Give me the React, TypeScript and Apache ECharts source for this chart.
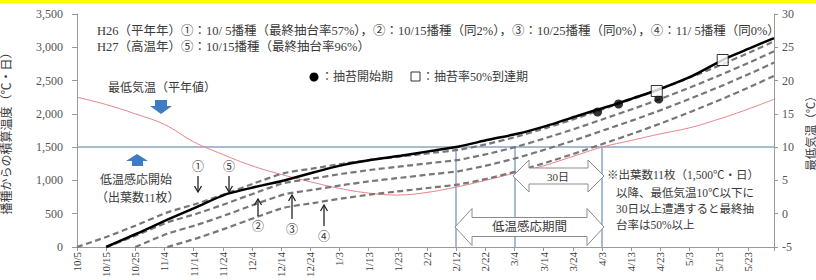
import React, { useEffect, useRef } from 'react';
import * as echarts from 'echarts';

// x = days after 10/5 (tick every 10 days)
const TICK_LABELS = ['10/5', '10/15', '10/25', '11/4', '11/14', '11/24', '12/4', '12/14', '12/24', '1/3', '1/13', '1/23', '2/2', '2/12', '2/22', '3/4', '3/14', '3/24', '4/3', '4/13', '4/23', '5/3', '5/13', '5/23'];

// ⑤ H27 10/15 sowing (solid black)
const S5_DAYS = [10, 21, 31, 41, 51, 61, 66, 71, 81, 91, 101, 111, 121, 131, 141, 151, 161, 171, 178, 185, 191, 199, 211, 222, 231, 239];
const S5_VALUES = [0, 210, 410, 600, 790, 900, 950, 1000, 1120, 1230, 1310, 1370, 1440, 1510, 1610, 1700, 1820, 1960, 2058, 2150, 2240, 2358, 2570, 2824, 2990, 3139];

// ① H26 10/5 sowing
const S1_DAYS = [0, 10, 20, 31, 41, 51, 61, 71, 81, 91, 101, 111, 121, 131, 141, 151, 161, 171, 181, 191, 201, 211, 221, 231, 239];
const S1_VALUES = [0, 150, 320, 520, 650, 800, 960, 1110, 1180, 1250, 1310, 1360, 1410, 1460, 1550, 1660, 1790, 1930, 2080, 2230, 2390, 2560, 2740, 2930, 3090];

// ② H26 10/15 sowing
const S2_DAYS = [10, 20, 31, 41, 51, 61, 71, 81, 91, 101, 111, 121, 131, 141, 151, 161, 171, 181, 191, 201, 211, 221, 231, 239];
const S2_VALUES = [0, 170, 370, 500, 650, 810, 960, 1030, 1100, 1160, 1210, 1260, 1310, 1400, 1510, 1640, 1780, 1930, 2080, 2240, 2410, 2590, 2780, 2940];

// ③ H26 10/25 sowing
const S3_DAYS = [20, 31, 41, 51, 61, 71, 81, 91, 101, 111, 121, 131, 141, 151, 161, 171, 181, 191, 201, 211, 221, 231, 239];
const S3_VALUES = [0, 200, 330, 480, 640, 790, 860, 930, 990, 1040, 1090, 1140, 1230, 1340, 1470, 1610, 1760, 1910, 2070, 2240, 2420, 2610, 2770];

// ④ H26 11/5 sowing
const S4_DAYS = [31, 41, 51, 61, 71, 81, 91, 101, 111, 121, 131, 141, 151, 161, 171, 181, 191, 201, 211, 221, 231, 239];
const S4_VALUES = [0, 130, 280, 440, 590, 660, 730, 790, 840, 890, 940, 1030, 1140, 1270, 1410, 1560, 1710, 1870, 2040, 2220, 2410, 2570];

// 最低気温（平年値） right axis
const TMIN_DAYS = [0, 10, 20, 30, 40, 50, 60, 70, 80, 90, 100, 110, 120, 130, 140, 150, 160, 170, 180, 190, 200, 210, 220, 230, 239];
const TMIN_VALUES = [17.5, 16.4, 15.0, 13.4, 10.8, 8.9, 7.2, 5.9, 4.8, 3.8, 3.1, 2.8, 3.2, 4.0, 5.0, 6.1, 7.2, 8.6, 10.0, 11.0, 12.0, 12.9, 14.2, 15.7, 17.2];

// ● 抽苔開始期
const START_DAYS = [178.5, 185.7, 199.5];
const START_VALUES = [2028, 2148, 2223];
// □ 抽苔率50%到達期
const HALF_DAYS = [198.8, 221.4];
const HALF_VALUES = [2343, 2809];

const REF_LEVEL = 1500;
const REF_DAYS = [130, 150, 180];

const FONT = '"Liberation Serif", "Noto Sans CJK JP", serif';
const TXT = '#3a3a3a';

const zip = (a: number[], b: number[]) => a.map((d, i) => [d, b[i]]);

function doubleArrow(x1: number, x2: number, cy: number, sh: number, hh: number, hl: number) {
  return [
    [x1, cy], [x1 + hl, cy - hh], [x1 + hl, cy - sh], [x2 - hl, cy - sh], [x2 - hl, cy - hh],
    [x2, cy], [x2 - hl, cy + hh], [x2 - hl, cy + sh], [x1 + hl, cy + sh], [x1 + hl, cy + hh],
  ];
}

function thinArrow(x: number, y1: number, y2: number) {
  const d = y2 > y1 ? -1 : 1;
  return [
    { type: 'line', z: 50, shape: { x1: x, y1, x2: x, y2 }, style: { stroke: '#222', lineWidth: 1.3 } },
    { type: 'polyline', z: 50, shape: { points: [[x - 3.5, y2 + d * 6], [x, y2], [x + 3.5, y2 + d * 6]] }, style: { stroke: '#222', lineWidth: 1.3, fill: 'none' } },
  ];
}

function txt(x: number, y: number, text: string, size: number, extra: any = {}) {
  return { type: 'text', z: 60, x, y, style: { text, fontSize: size, fontFamily: FONT, fill: TXT, textVerticalAlign: 'middle', ...extra } };
}

export default function App() {
  const ref = useRef<HTMLDivElement>(null);
  useEffect(() => {
    if (!ref.current) return;
    const chart = echarts.init(ref.current, null, { renderer: 'svg' });
    const dashed = { color: '#777777', width: 2.2, type: [6, 3.5] as any };
    const refLine = { color: '#8aa4c4', width: 1.5, type: 'solid' as any };
    const graphic: any[] = [
      { type: 'rect', z: 0, shape: { x: 0, y: 0, width: 816, height: 3 }, style: { fill: '#ffff00' } },
      txt(97, 31, 'H26（平年年）①：10/ 5播種（最終抽台率57%），②：10/15播種（同2%），③：10/25播種（同0%），④：11/ 5播種（同0%）', 12.5),
      txt(97, 47, 'H27（高温年）⑤：10/15播種（最終抽台率96%）', 12.5),
      { type: 'circle', z: 60, shape: { cx: 314, cy: 77, r: 4.5 }, style: { fill: '#000' } },
      txt(321, 77, '：抽苔開始期', 12),
      { type: 'rect', z: 60, shape: { x: 411, y: 72, width: 9, height: 9 }, style: { fill: '#fff', stroke: '#333', lineWidth: 1 } },
      txt(422, 77, '：抽苔率50%到達期', 12),
      txt(108, 88, '最低気温（平年値）', 12),
      { type: 'polygon', z: 60, shape: { points: [[155, 100], [167, 100], [167, 106], [172, 106], [161, 114], [150, 106], [155, 106]] }, style: { fill: '#3f7cc4' } },
      { type: 'polygon', z: 60, shape: { points: [[137, 154], [148, 161], [143, 161], [143, 166], [132, 166], [132, 161], [126, 161]] }, style: { fill: '#3f7cc4' } },
      txt(100, 180, '低温感応開始', 12),
      txt(96, 198, '（出葉数11枚）', 12),
      txt(192, 167, '①', 12),
      txt(223, 167, '⑤', 12),
      txt(252, 227, '②', 12),
      txt(286, 230, '③', 12),
      txt(318, 237, '④', 12),
      ...thinArrow(198, 176, 192),
      ...thinArrow(229, 176, 192),
      ...thinArrow(258, 216, 199),
      ...thinArrow(292, 219, 195),
      ...thinArrow(324, 226, 205),
      { type: 'polygon', z: 40, shape: { points: doubleArrow(513, 604, 176, 8, 16, 16) }, style: { fill: '#fff', stroke: '#8c8c8c', lineWidth: 1 } },
      txt(547, 177, '30日', 11),
      { type: 'polygon', z: 40, shape: { points: doubleArrow(455, 604, 227, 9.5, 18.5, 17) }, style: { fill: '#fff', stroke: '#8c8c8c', lineWidth: 1 } },
      txt(492, 227, '低温感応期間', 12.5),
      txt(607, 175, '※出葉数11枚（1,500℃・日）', 11.5),
      txt(616, 193, '以降、最低気温10℃以下に', 11.5),
      txt(616, 209, '30日以上遭遇すると最終抽', 11.5),
      txt(616, 225, '台率は50%以上', 11.5),
    ];
    chart.setOption({
      animation: false,
      backgroundColor: '#ffffff',
      textStyle: { fontFamily: FONT },
      grid: { left: 77, right: 42, top: 14, bottom: 33, containLabel: false, outerBoundsMode: 'none' },
      xAxis: {
        type: 'value', min: 0, max: 239, interval: 10,
        axisLine: { lineStyle: { color: '#999', width: 1 } },
        axisTick: { show: true, length: 4, lineStyle: { color: '#999' } },
        splitLine: { show: false },
        axisLabel: {
          rotate: 90, fontSize: 11, color: TXT, fontFamily: FONT, margin: 5,
          formatter: (v: number) => (v % 10 === 0 && TICK_LABELS[v / 10] ? TICK_LABELS[v / 10] : ''),
        },
      },
      yAxis: [
        {
          type: 'value', min: 0, max: 3500, interval: 500, position: 'left',
          name: '播種からの積算温度（℃・日）', nameLocation: 'middle', nameGap: 64, nameRotate: 90,
          nameTextStyle: { fontSize: 12, color: TXT, fontFamily: FONT },
          axisLine: { show: true, lineStyle: { color: '#999' } },
          axisTick: { show: true, length: 5, lineStyle: { color: '#999' } },
          splitLine: { show: false },
          axisLabel: {
            fontSize: 12, color: '#555', fontFamily: FONT, margin: 14,
            formatter: (v: number) => (v >= 1000 ? `${Math.floor(v / 1000)},${String(v % 1000).padStart(3, '0')}` : String(v)),
          },
        },
        {
          type: 'value', min: -5, max: 30, interval: 5, position: 'right',
          name: '最低気温（℃）', nameLocation: 'middle', nameGap: 27, nameRotate: 90,
          nameTextStyle: { fontSize: 11.5, color: TXT, fontFamily: FONT },
          axisLine: { show: true, lineStyle: { color: '#999' } },
          axisTick: { show: true, length: 4, lineStyle: { color: '#999' } },
          splitLine: { show: false },
          axisLabel: { fontSize: 12, color: '#555', fontFamily: FONT, margin: 8 },
        },
      ],
      series: [
        {
          type: 'line', yAxisIndex: 1, data: zip(TMIN_DAYS, TMIN_VALUES), showSymbol: false, smooth: 0.4,
          lineStyle: { color: '#e8828c', width: 1 }, z: 3,
        },
        {
          type: 'line', data: zip(S1_DAYS, S1_VALUES), showSymbol: false, smooth: 0.2, lineStyle: dashed, z: 4,
          markLine: {
            silent: true, symbol: 'none', label: { show: false }, lineStyle: refLine, z: 1,
            data: [
              { yAxis: REF_LEVEL },
              ...REF_DAYS.map((d) => [{ coord: [d, REF_LEVEL] }, { coord: [d, 0] }]),
            ],
          },
        },
        { type: 'line', data: zip(S2_DAYS, S2_VALUES), showSymbol: false, smooth: 0.2, lineStyle: dashed, z: 4 },
        { type: 'line', data: zip(S3_DAYS, S3_VALUES), showSymbol: false, smooth: 0.2, lineStyle: dashed, z: 4 },
        { type: 'line', data: zip(S4_DAYS, S4_VALUES), showSymbol: false, smooth: 0.2, lineStyle: dashed, z: 4 },
        { type: 'line', data: zip(S5_DAYS, S5_VALUES), showSymbol: false, smooth: 0.2, lineStyle: { color: '#000', width: 2.5 }, z: 5 },
        { type: 'scatter', data: zip(START_DAYS, START_VALUES), symbol: 'circle', symbolSize: 9, itemStyle: { color: '#000' }, z: 6 },
        { type: 'scatter', data: zip(HALF_DAYS, HALF_VALUES), symbol: 'rect', symbolSize: 11, itemStyle: { color: '#fff', borderColor: '#000', borderWidth: 1 }, z: 7 },
      ],
      graphic,
    });
    return () => chart.dispose();
  }, []);
  return <div ref={ref} style={{ position: 'fixed', left: 0, top: 0, width: 816, height: 280, background: '#fff' }} />;
}
